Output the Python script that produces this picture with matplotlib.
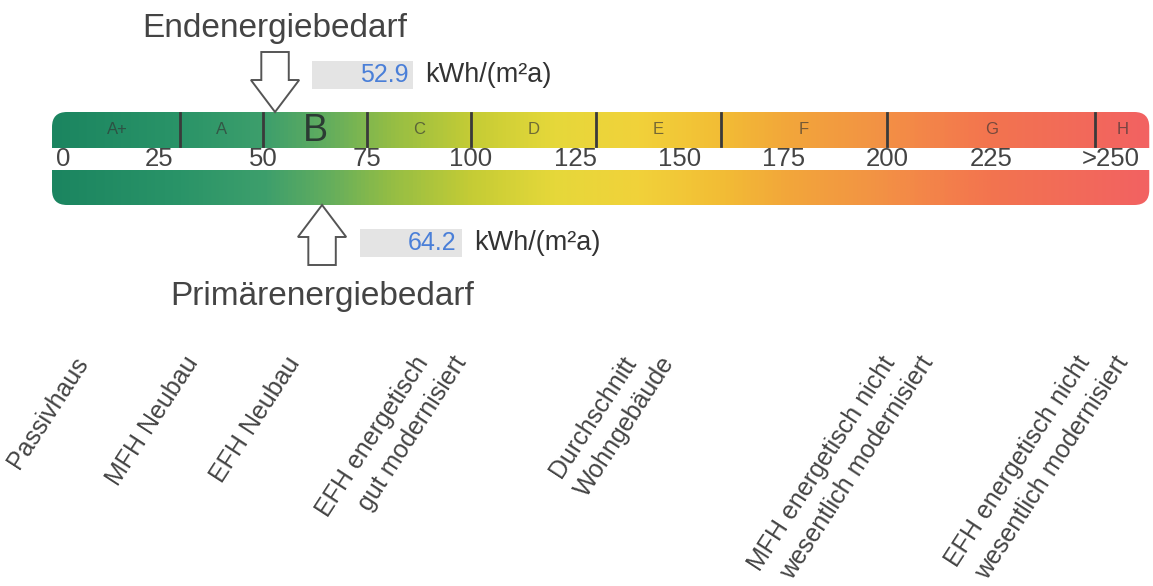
import numpy as np
import matplotlib.pyplot as plt
from matplotlib.colors import LinearSegmentedColormap
from matplotlib.patches import FancyBboxPatch, Rectangle, Polygon

plt.rcParams['font.family'] = ['Liberation Sans', 'DejaVu Sans']

# energy classes and scale (kWh/(m²a))
class_names = ['A+', 'A', 'B', 'C', 'D', 'E', 'F', 'G', 'H']
class_bounds = [0, 30, 50, 75, 100, 130, 160, 200, 250, 263]
current_class = 'B'
tick_values = [0, 25, 50, 75, 100, 125, 150, 175, 200, 225, 250]
tick_labels = ['0', '25', '50', '75', '100', '125', '150', '175', '200', '225', '>250']

end_energy = 52.9
primary_energy = 64.2

ref_labels = [['Passivhaus'], ['MFH Neubau'], ['EFH Neubau'],
              ['EFH energetisch', 'gut modernisiert'],
              ['Durchschnitt', 'Wohngebäude'],
              ['MFH energetisch nicht', 'wesentlich modernisiert'],
              ['EFH energetisch nicht', 'wesentlich modernisiert']]
ref_values = [4.3, 30.8, 55.3, 86.1, 136, 198.3, 245.2]

grad_stops = [(0, '#1b8560'), (30, '#2a9468'), (50, '#3d9f6c'), (65, '#62ad5e'),
              (80, '#93bd45'), (100, '#c5cc35'), (120, '#e6d83a'), (140, '#f1d23a'),
              (160, '#f3bd35'), (175, '#f2a83a'), (200, '#f39045'), (225, '#f3744f'),
              (263, '#f26262')]

fig = plt.figure(figsize=(11.53, 5.86), dpi=100)
ax = fig.add_axes([0, 0, 1, 1])
ax.set_xlim(-13.2, 263.9)
ax.set_ylim(586, 0)
ax.axis('off')

# gradient bar
x0, x1 = -0.7, class_bounds[-1]
top, bottom = 112, 205
cmap = LinearSegmentedColormap.from_list(
    'energy', [((v - x0) / (x1 - x0), c) for v, c in [(x0, grad_stops[0][1])] + grad_stops[1:]])
box = FancyBboxPatch((x0, top), x1 - x0, bottom - top,
                     boxstyle='round,pad=0,rounding_size=3.6', mutation_aspect=4.16,
                     facecolor='none', edgecolor='none')
ax.add_patch(box)
grad = np.linspace(0, 1, 800).reshape(1, -1)
im = ax.imshow(grad, extent=(x0, x1, bottom, top), aspect='auto', cmap=cmap, zorder=1)
im.set_clip_path(box)
ax.add_patch(Rectangle((x0 - 1, 148), x1 - x0 + 2, 22, facecolor='white', edgecolor='none', zorder=2))

# class dividers and names
for b in class_bounds[1:-1]:
    ax.plot([b, b], [113, 146], color='#3a3a3a', lw=2, zorder=3)
for name, lo, hi in zip(class_names, class_bounds[:-1], class_bounds[1:]):
    if name == current_class:
        ax.text((lo + hi) / 2, 131, name, ha='center', va='center', fontsize=27,
                color='#2b3b33', zorder=4)
    else:
        ax.text((lo + hi) / 2, 130, name, ha='center', va='center', fontsize=12,
                color='#333333', alpha=0.65, zorder=4)

# scale numbers
for v, lab in zip(tick_values, tick_labels):
    if v == 0:
        ax.text(v + 0.3, 159, lab, ha='left', va='center', fontsize=18.5, color='#444444', zorder=4)
    elif lab.startswith('>'):
        ax.text(class_bounds[-1] - 2.3, 159, lab, ha='right', va='center', fontsize=18.5,
                color='#444444', zorder=4)
    else:
        ax.text(v, 159, lab, ha='center', va='center', fontsize=18.5, color='#444444', zorder=4)

# arrows
def block_arrow(x, tip_y, direction):
    hw, sw = 5.8, 3.3
    head, total = 32 * direction, 60 * direction
    base = tip_y - head
    end = tip_y - total
    pts = [(x, tip_y), (x - hw, base), (x - sw, base), (x - sw, end),
           (x + sw, end), (x + sw, base), (x + hw, base)]
    ax.add_patch(Polygon(pts, closed=True, facecolor='white', edgecolor='#555555',
                         lw=1.4, zorder=5))

block_arrow(end_energy, 112, 1)
block_arrow(primary_energy, 205, -1)

# value boxes
def value_box(v, xl, xr, yc):
    ax.add_patch(Rectangle((xl, yc - 14), xr - xl, 28, facecolor='#e4e4e4',
                           edgecolor='none', zorder=3))
    ax.text(xr - 1.2, yc, f'{v:.1f}', ha='right', va='center', fontsize=18,
            color='#4a7fd8', zorder=4)
    ax.text(xr + 2.9, yc, 'kWh/(m²a)', ha='left', va='center', fontsize=19.5,
            color='#333333', zorder=4)

value_box(end_energy, 61.8, 86.1, 75)
value_box(primary_energy, 73.3, 97.8, 243)

ax.text(end_energy, 37, 'Endenergiebedarf', ha='center', va='baseline', fontsize=24,
        color='#444444')
ax.text(primary_energy, 305, 'Primärenergiebedarf', ha='center', va='baseline',
        fontsize=24, color='#444444')

# reference buildings
for v, lines in zip(ref_values, ref_labels):
    for i, line in enumerate(lines):
        ax.text(v + i * 9.2, 352, line, ha='right', va='top', rotation=57,
                rotation_mode='anchor', fontsize=18, color='#444444')

plt.savefig('out.png', dpi=100)
plt.close()
